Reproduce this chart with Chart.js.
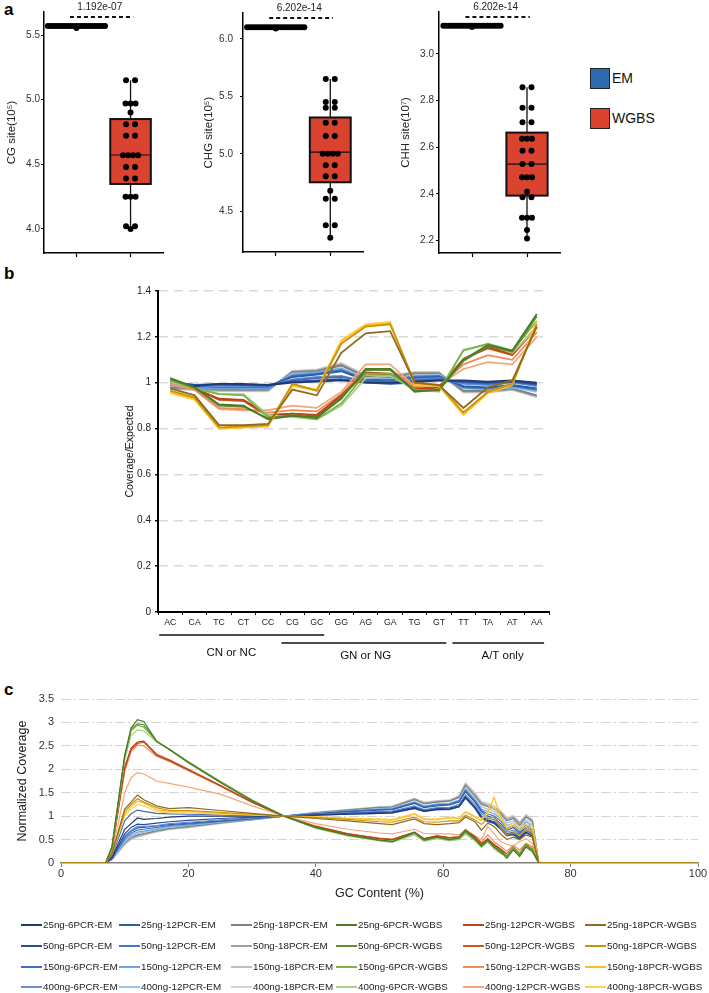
<!DOCTYPE html>
<html>
<head>
<meta charset="utf-8">
<script src="https://cdn.jsdelivr.net/npm/chart.js@4.4.1/dist/chart.umd.min.js"></script>
<style>
  body { margin: 0; background: #fff; font-family: "Liberation Sans", Arial, sans-serif; }
  #page { position: relative; width: 709px; height: 993px; overflow: hidden; background: #fff; }
  canvas { position: absolute; }
  .tag { position: absolute; font-weight: bold; font-size: 17px; line-height: 17px; color: #000; }
  .key { position: absolute; width: 20px; height: 21px; border: 1.5px solid #222; box-sizing: border-box; }
  .keyt { position: absolute; font-size: 14px; line-height: 16px; color: #111; }
</style>
</head>
<body>
<div id="page">
  <div class="tag" style="left:4px;top:1px">a</div>
  <div class="tag" style="left:4px;top:265px">b</div>
  <div class="tag" style="left:4px;top:681px">c</div>

  <canvas id="a1" width="175" height="265" style="left:0;top:0"></canvas>
  <canvas id="a2" width="175" height="265" style="left:195px;top:0"></canvas>
  <canvas id="a3" width="180" height="265" style="left:390px;top:0"></canvas>

  <div class="key" style="left:590px;top:68px;background:#2e6bb0"></div>
  <div class="keyt" style="left:612px;top:70px">EM</div>
  <div class="key" style="left:590px;top:108px;background:#d9432f"></div>
  <div class="keyt" style="left:612px;top:110px">WGBS</div>

  <canvas id="b" width="709" height="400" style="left:0;top:270px"></canvas>
  <canvas id="c" width="709" height="313" style="left:0;top:680px"></canvas>
</div>

<script>
// ---------- panel a ----------
const aGroups = ["EM", "WGBS"];
const aTitles = ["CG site(10\u2075)", "CHG site(10\u2075)", "CHH site(10\u2077)"];
const aPvalues = ["1.192e-07", "6.202e-14", "6.202e-14"];
const aTicks = [[4.0, 4.5, 5.0, 5.5], [4.5, 5.0, 5.5, 6.0], [2.2, 2.4, 2.6, 2.8, 3.0]];

const cgEM = [5.57, 5.57, 5.57, 5.57, 5.57, 5.57, 5.57, 5.57, 5.57, 5.57, 5.57, 5.57,
              5.555, 5.57, 5.57, 5.57, 5.57, 5.57, 5.57, 5.57, 5.57, 5.57, 5.57, 5.57];
const cgWGBS = [5.15, 5.15, 4.97, 4.97, 4.97, 4.90, 4.81, 4.81, 4.72, 4.72, 4.57, 4.57,
                4.57, 4.57, 4.48, 4.48, 4.39, 4.39, 4.25, 4.25, 4.25, 4.02, 4.02, 4.0];
const chgEM = [6.10, 6.10, 6.10, 6.10, 6.10, 6.10, 6.10, 6.10, 6.10, 6.10, 6.10, 6.10,
               6.09, 6.10, 6.10, 6.10, 6.10, 6.10, 6.10, 6.10, 6.10, 6.10, 6.10, 6.10];
const chgWGBS = [5.65, 5.65, 5.45, 5.45, 5.40, 5.40, 5.27, 5.27, 5.155, 5.155, 5.0, 5.0,
                 5.0, 5.0, 4.90, 4.90, 4.805, 4.805, 4.68, 4.61, 4.61, 4.38, 4.38, 4.27];
const chhEM = [3.121, 3.121, 3.121, 3.121, 3.121, 3.121, 3.121, 3.121, 3.121, 3.121, 3.121, 3.121,
               3.116, 3.121, 3.121, 3.121, 3.121, 3.121, 3.121, 3.121, 3.121, 3.121, 3.121, 3.121];
const chhWGBS = [2.857, 2.857, 2.77, 2.77, 2.707, 2.707, 2.637, 2.637, 2.637, 2.585, 2.585, 2.529,
                 2.529, 2.472, 2.472, 2.472, 2.41, 2.386, 2.386, 2.298, 2.298, 2.298, 2.246, 2.209];

const boxQ1 = [4.348, 4.753, 2.393];
const boxMedian = [4.572, 5.015, 2.528];
const boxQ3 = [4.85, 5.316, 2.663];

// ---------- panel b ----------
const bCats = ["AC", "CA", "TC", "CT", "CC", "CG", "GC", "GG", "AG", "GA", "TG", "GT", "TT", "TA", "AT", "AA"];
const groupNames = ["CN or NC", "GN or NG", "A/T only"];
const groupStart = [0, 5, 12];
const groupEnd = [6, 11, 15];
const groupLabelAt = [2.5, 8, 13.6];

const amounts = ["25ng", "50ng", "150ng", "400ng"];

const bEM6 = [
  [1.00, 0.985, 0.995, 0.995, 0.99, 1.00, 1.005, 1.01, 1.00, 1.00, 1.005, 1.01, 1.01, 1.005, 1.01, 1.00],
  [1.005, 0.99, 0.995, 0.99, 0.99, 1.005, 1.01, 1.015, 1.00, 0.995, 1.00, 1.01, 1.005, 1.00, 1.005, 0.995],
  [0.995, 0.985, 0.99, 0.99, 0.985, 1.01, 1.02, 1.025, 1.005, 1.00, 1.01, 1.015, 1.00, 0.995, 1.005, 0.99],
  [0.99, 0.98, 0.985, 0.985, 0.985, 1.015, 1.025, 1.03, 1.005, 1.005, 1.015, 1.02, 0.995, 0.99, 1.00, 0.985]
];
const bEM12 = [
  [1.00, 0.985, 0.985, 0.985, 0.985, 1.025, 1.035, 1.05, 1.01, 1.01, 1.02, 1.025, 0.985, 0.98, 0.99, 0.975],
  [0.995, 0.98, 0.98, 0.98, 0.98, 1.03, 1.04, 1.055, 1.015, 1.01, 1.025, 1.03, 0.98, 0.975, 0.985, 0.97],
  [0.99, 0.978, 0.978, 0.978, 0.978, 1.035, 1.045, 1.06, 1.015, 1.015, 1.03, 1.03, 0.978, 0.972, 0.985, 0.965],
  [0.988, 0.975, 0.975, 0.975, 0.975, 1.04, 1.045, 1.065, 1.02, 1.015, 1.03, 1.035, 0.975, 0.97, 0.98, 0.96]
];
const bEM18 = [
  [0.98, 0.975, 0.97, 0.97, 0.97, 1.045, 1.05, 1.075, 1.025, 1.025, 1.04, 1.04, 0.965, 0.965, 0.975, 0.945],
  [0.978, 0.972, 0.968, 0.968, 0.968, 1.048, 1.053, 1.08, 1.028, 1.028, 1.042, 1.042, 0.962, 0.962, 0.972, 0.942],
  [0.975, 0.97, 0.965, 0.965, 0.965, 1.05, 1.055, 1.083, 1.03, 1.03, 1.045, 1.045, 0.96, 0.96, 0.97, 0.94],
  [0.972, 0.968, 0.962, 0.962, 0.962, 1.052, 1.058, 1.086, 1.032, 1.032, 1.047, 1.047, 0.957, 0.957, 0.968, 0.937]
];
const bWGBS6 = [
  [1.02, 0.98, 0.905, 0.90, 0.84, 0.855, 0.85, 0.93, 1.06, 1.06, 0.96, 0.97, 1.10, 1.165, 1.14, 1.30],
  [1.015, 0.978, 0.90, 0.895, 0.845, 0.86, 0.845, 0.935, 1.055, 1.055, 0.965, 0.968, 1.095, 1.16, 1.135, 1.29],
  [1.01, 0.975, 0.95, 0.945, 0.85, 0.855, 0.84, 0.91, 1.04, 1.04, 0.97, 0.965, 1.14, 1.17, 1.14, 1.27],
  [1.005, 0.975, 0.95, 0.95, 0.86, 0.85, 0.84, 0.90, 1.02, 1.03, 0.97, 0.96, 1.145, 1.165, 1.13, 1.24]
];
const bWGBS12 = [
  [1.01, 0.975, 0.93, 0.925, 0.86, 0.865, 0.86, 0.945, 1.045, 1.04, 0.97, 0.98, 1.10, 1.155, 1.125, 1.245],
  [1.012, 0.975, 0.925, 0.92, 0.855, 0.865, 0.855, 0.94, 1.04, 1.035, 0.975, 0.98, 1.105, 1.15, 1.12, 1.24],
  [1.00, 0.97, 0.89, 0.885, 0.87, 0.88, 0.875, 0.95, 1.06, 1.06, 0.98, 0.985, 1.08, 1.12, 1.10, 1.22],
  [0.995, 0.968, 0.885, 0.88, 0.88, 0.90, 0.89, 0.96, 1.08, 1.08, 0.985, 0.99, 1.06, 1.09, 1.08, 1.20]
];
const bWGBS18 = [
  [0.975, 0.945, 0.815, 0.815, 0.82, 0.97, 0.945, 1.13, 1.215, 1.225, 1.00, 0.99, 0.89, 0.98, 1.01, 1.245],
  [0.965, 0.935, 0.805, 0.81, 0.815, 0.995, 0.965, 1.17, 1.245, 1.255, 1.00, 0.99, 0.87, 0.96, 0.995, 1.255],
  [0.96, 0.93, 0.80, 0.805, 0.81, 0.99, 0.97, 1.18, 1.25, 1.26, 0.995, 0.985, 0.86, 0.955, 0.99, 1.265],
  [0.955, 0.925, 0.80, 0.805, 0.81, 0.985, 0.965, 1.185, 1.255, 1.265, 0.99, 0.985, 0.865, 0.96, 0.995, 1.27]
];

// ---------- panel c ----------
const gcX = [0, 7, 8, 10, 11, 12, 13, 15, 17, 20, 25, 30, 35, 40, 45, 50, 52, 55.5, 57, 59, 61,
             62.5, 63.5, 65, 66, 67, 68, 69, 70, 71, 72, 73, 74, 75, 100];

const cEM6 = [
  [0, 0, 0.12, 0.72, 0.84, 0.96, 0.93, 0.95, 0.98, 1.0, 1.0, 1.0, 1.0, 1.02, 1.04, 1.06, 1.07, 1.17, 1.1, 1.14, 1.15, 1.2, 1.4, 1.18, 0.98, 0.9, 0.86, 0.74, 0.6, 0.62, 0.52, 0.66, 0.58, 0, 0],
  [0, 0, 0.1, 0.62, 0.76, 0.83, 0.82, 0.85, 0.88, 0.91, 0.95, 0.98, 1.0, 1.03, 1.06, 1.08, 1.09, 1.19, 1.12, 1.16, 1.17, 1.22, 1.42, 1.2, 1.0, 0.92, 0.88, 0.76, 0.62, 0.66, 0.55, 0.7, 0.62, 0, 0],
  [0, 0, 0.15, 0.9, 1.05, 1.13, 1.1, 1.06, 1.05, 1.04, 1.03, 1.01, 1.0, 1.02, 1.04, 1.06, 1.07, 1.16, 1.1, 1.14, 1.14, 1.2, 1.38, 1.16, 0.95, 0.88, 0.84, 0.72, 0.58, 0.6, 0.5, 0.64, 0.56, 0, 0],
  [0, 0, 0.1, 0.58, 0.7, 0.78, 0.78, 0.8, 0.84, 0.87, 0.92, 0.96, 1.0, 1.04, 1.07, 1.1, 1.11, 1.22, 1.14, 1.18, 1.19, 1.25, 1.46, 1.25, 1.05, 0.96, 0.92, 0.8, 0.66, 0.7, 0.6, 0.74, 0.66, 0, 0]
];
const cEM12 = [
  [0, 0, 0.1, 0.56, 0.68, 0.75, 0.76, 0.79, 0.82, 0.85, 0.9, 0.95, 1.0, 1.05, 1.09, 1.13, 1.14, 1.27, 1.18, 1.22, 1.24, 1.3, 1.52, 1.3, 1.1, 1.0, 0.96, 0.84, 0.7, 0.76, 0.62, 0.78, 0.7, 0, 0],
  [0, 0, 0.1, 0.52, 0.64, 0.7, 0.72, 0.76, 0.8, 0.83, 0.89, 0.94, 1.0, 1.05, 1.1, 1.14, 1.15, 1.29, 1.2, 1.24, 1.25, 1.32, 1.55, 1.32, 1.12, 1.05, 1.0, 0.9, 0.74, 0.8, 0.66, 0.82, 0.72, 0, 0],
  [0, 0, 0.09, 0.48, 0.6, 0.66, 0.68, 0.73, 0.78, 0.81, 0.88, 0.94, 1.0, 1.06, 1.11, 1.15, 1.16, 1.3, 1.21, 1.25, 1.27, 1.33, 1.57, 1.35, 1.15, 1.1, 1.05, 0.95, 0.8, 0.85, 0.7, 0.88, 0.78, 0, 0],
  [0, 0, 0.08, 0.45, 0.57, 0.63, 0.66, 0.71, 0.76, 0.8, 0.87, 0.93, 1.0, 1.06, 1.11, 1.16, 1.17, 1.31, 1.22, 1.26, 1.28, 1.35, 1.6, 1.38, 1.2, 1.15, 1.1, 1.0, 0.85, 0.9, 0.75, 0.92, 0.82, 0, 0]
];
const cEM18 = [
  [0, 0, 0.08, 0.44, 0.55, 0.6, 0.63, 0.69, 0.74, 0.78, 0.86, 0.93, 1.0, 1.07, 1.13, 1.18, 1.19, 1.35, 1.26, 1.3, 1.32, 1.4, 1.65, 1.42, 1.25, 1.2, 1.15, 1.05, 0.9, 0.95, 0.8, 0.98, 0.88, 0, 0],
  [0, 0, 0.08, 0.42, 0.53, 0.58, 0.62, 0.68, 0.73, 0.77, 0.85, 0.92, 1.0, 1.07, 1.13, 1.19, 1.2, 1.37, 1.28, 1.31, 1.33, 1.42, 1.68, 1.45, 1.28, 1.22, 1.18, 1.08, 0.92, 0.98, 0.84, 1.0, 0.9, 0, 0],
  [0, 0, 0.07, 0.4, 0.51, 0.56, 0.6, 0.67, 0.72, 0.76, 0.85, 0.92, 1.0, 1.08, 1.14, 1.2, 1.21, 1.38, 1.29, 1.32, 1.34, 1.43, 1.7, 1.48, 1.3, 1.25, 1.2, 1.1, 0.95, 1.0, 0.86, 1.02, 0.92, 0, 0],
  [0, 0, 0.07, 0.38, 0.5, 0.55, 0.59, 0.66, 0.71, 0.75, 0.84, 0.92, 1.0, 1.08, 1.14, 1.2, 1.22, 1.38, 1.3, 1.33, 1.35, 1.44, 1.7, 1.5, 1.32, 1.28, 1.22, 1.12, 0.97, 1.02, 0.88, 1.04, 0.94, 0, 0]
];
const cWGBS6 = [
  [0, 0, 0.35, 2.3, 2.88, 3.06, 3.02, 2.6, 2.42, 2.14, 1.72, 1.33, 1.0, 0.76, 0.6, 0.49, 0.46, 0.66, 0.5, 0.56, 0.5, 0.55, 0.7, 0.52, 0.36, 0.5, 0.34, 0.24, 0.1, 0.28, 0.14, 0.34, 0.24, 0, 0],
  [0, 0, 0.34, 2.28, 2.86, 2.97, 2.95, 2.6, 2.42, 2.15, 1.73, 1.33, 1.0, 0.76, 0.6, 0.49, 0.46, 0.64, 0.49, 0.55, 0.5, 0.53, 0.67, 0.5, 0.38, 0.48, 0.36, 0.26, 0.14, 0.3, 0.17, 0.38, 0.28, 0, 0],
  [0, 0, 0.33, 2.25, 2.82, 2.94, 2.9, 2.6, 2.43, 2.16, 1.74, 1.34, 1.0, 0.75, 0.59, 0.48, 0.45, 0.63, 0.48, 0.54, 0.49, 0.52, 0.65, 0.49, 0.35, 0.46, 0.33, 0.22, 0.15, 0.32, 0.2, 0.4, 0.3, 0, 0],
  [0, 0, 0.3, 2.2, 2.72, 2.84, 2.82, 2.58, 2.43, 2.16, 1.75, 1.35, 1.0, 0.74, 0.58, 0.47, 0.44, 0.6, 0.46, 0.52, 0.47, 0.5, 0.62, 0.47, 0.33, 0.44, 0.3, 0.2, 0.18, 0.3, 0.22, 0.36, 0.3, 0, 0]
];
const cWGBS12 = [
  [0, 0, 0.3, 2.05, 2.45, 2.58, 2.6, 2.32, 2.2, 2.0, 1.66, 1.3, 1.0, 0.78, 0.62, 0.52, 0.5, 0.66, 0.52, 0.58, 0.54, 0.56, 0.7, 0.56, 0.4, 0.52, 0.38, 0.3, 0.15, 0.3, 0.2, 0.36, 0.28, 0, 0],
  [0, 0, 0.3, 2.0, 2.42, 2.55, 2.58, 2.3, 2.18, 1.98, 1.65, 1.3, 1.0, 0.78, 0.62, 0.52, 0.5, 0.65, 0.51, 0.57, 0.53, 0.55, 0.68, 0.55, 0.42, 0.5, 0.4, 0.3, 0.2, 0.34, 0.22, 0.4, 0.3, 0, 0],
  [0, 0, 0.28, 1.95, 2.38, 2.52, 2.5, 2.28, 2.17, 1.97, 1.64, 1.29, 1.0, 0.79, 0.63, 0.53, 0.51, 0.66, 0.52, 0.58, 0.54, 0.56, 0.69, 0.56, 0.45, 0.6, 0.45, 0.35, 0.25, 0.38, 0.28, 0.42, 0.35, 0, 0],
  [0, 0, 0.22, 1.5, 1.82, 1.93, 1.9, 1.75, 1.7, 1.62, 1.47, 1.22, 1.0, 0.84, 0.72, 0.64, 0.62, 0.72, 0.63, 0.62, 0.62, 0.6, 0.72, 0.58, 0.5, 0.78, 0.62, 0.46, 0.4, 0.36, 0.46, 0.52, 0.42, 0, 0]
];
const cWGBS18 = [
  [0, 0, 0.2, 1.15, 1.3, 1.45, 1.35, 1.22, 1.16, 1.18, 1.12, 1.06, 1.0, 0.95, 0.9, 0.84, 0.82, 0.94, 0.84, 0.82, 0.84, 0.86, 0.98, 0.88, 0.7, 0.85, 0.78, 0.62, 0.5, 0.55, 0.5, 0.6, 0.55, 0, 0],
  [0, 0, 0.2, 1.1, 1.25, 1.37, 1.3, 1.18, 1.12, 1.12, 1.08, 1.04, 1.0, 0.97, 0.93, 0.88, 0.87, 0.98, 0.88, 0.87, 0.9, 0.9, 1.02, 0.92, 0.82, 0.95, 0.98, 0.75, 0.6, 0.65, 0.6, 0.7, 0.65, 0, 0],
  [0, 0, 0.2, 1.05, 1.2, 1.32, 1.28, 1.14, 1.1, 1.1, 1.06, 1.03, 1.0, 0.98, 0.95, 0.92, 0.91, 1.04, 0.93, 0.92, 0.96, 0.95, 1.08, 0.98, 0.9, 1.1, 1.4, 1.0, 0.72, 0.8, 0.7, 0.78, 0.72, 0, 0],
  [0, 0, 0.18, 1.0, 1.15, 1.25, 1.22, 1.1, 1.07, 1.07, 1.04, 1.02, 1.0, 0.99, 0.96, 0.94, 0.93, 1.06, 0.95, 0.94, 0.98, 0.96, 1.1, 1.0, 0.95, 1.05, 1.2, 0.95, 0.78, 0.85, 0.75, 0.82, 0.78, 0, 0]
];

// colours (rows = 25, 50, 150, 400 ng)
const colEM6 = ["#1f3a70", "#2b4e9c", "#4169c6", "#6a8fd6"];
const colEM12 = ["#2d5f9e", "#3b7bc8", "#6fa6df", "#9dc3ea"];
const colEM18 = ["#7f7f7f", "#a0a0a0", "#bfbfbf", "#d6d6d6"];
const colW6 = ["#4e7a28", "#5e9131", "#79b547", "#a8d08c"];
const colW12 = ["#b8431a", "#d4561c", "#f08a5a", "#f4a67a"];
const colW18 = ["#8e6b1e", "#c99310", "#ffbf1f", "#ffd34f"];

Chart.defaults.font.family = '"Liberation Sans", Arial, Helvetica, sans-serif';
Chart.defaults.color = "#222";
Chart.defaults.animation = false;
Chart.defaults.events = [];
Chart.defaults.plugins.legend.display = false;
Chart.defaults.plugins.tooltip.enabled = false;

const plainNum = v => String(+Number(v).toFixed(2));

// ---------- panel a charts ----------
function swarm(values, center, ppu) {
  const counts = {}, seen = {};
  values.forEach(v => { const k = v.toFixed(3); counts[k] = (counts[k] || 0) + 1; });
  return values.map(v => {
    const k = v.toFixed(3);
    const n = counts[k];
    seen[k] = seen[k] === undefined ? 0 : seen[k] + 1;
    const step = n === 2 ? 9 : (n <= 5 ? 5 : 2.6);
    return { x: center + (seen[k] - (n - 1) / 2) * step / ppu, y: v };
  });
}

const boxPlugin = {
  id: "boxPlot",
  beforeDatasetsDraw(chart, args, o) {
    const { ctx, scales: { x, y } } = chart;
    const cx = x.getPixelForValue(1);
    const half = o.halfWidth * (x.getPixelForValue(1) - x.getPixelForValue(0));
    ctx.save();
    ctx.strokeStyle = "#111";
    ctx.lineWidth = 1.3;
    ctx.beginPath();
    ctx.moveTo(cx, y.getPixelForValue(o.min));
    ctx.lineTo(cx, y.getPixelForValue(o.max));
    ctx.stroke();
    const t = y.getPixelForValue(o.q3), b = y.getPixelForValue(o.q1);
    ctx.fillStyle = o.fill;
    ctx.fillRect(cx - half, t, 2 * half, b - t);
    ctx.lineWidth = 2;
    ctx.strokeRect(cx - half, t, 2 * half, b - t);
    const m = y.getPixelForValue(o.median);
    ctx.lineWidth = 1.2;
    ctx.beginPath();
    ctx.moveTo(cx - half, m);
    ctx.lineTo(cx + half, m);
    ctx.stroke();
    ctx.restore();
  },
  afterDraw(chart, args, o) {
    const { ctx, chartArea, scales: { x } } = chart;
    const yb = chartArea.top + 5;
    ctx.save();
    ctx.strokeStyle = "#111";
    ctx.lineWidth = 2;
    ctx.setLineDash([4, 3]);
    ctx.beginPath();
    ctx.moveTo(x.getPixelForValue(-0.12), yb);
    ctx.lineTo(x.getPixelForValue(1.05), yb);
    ctx.stroke();
    ctx.setLineDash([]);
    ctx.fillStyle = "#222";
    ctx.font = '10px "Liberation Sans", Arial, sans-serif';
    ctx.textAlign = "center";
    ctx.textBaseline = "middle";
    ctx.fillText(o.text, x.getPixelForValue(0.43), yb - 10);
    ctx.restore();
  }
};

const aLayout = [
  { id: "a1", yW: 44, padR: 12, titlePad: 5, tickPad: 1 },
  { id: "a2", yW: 48, padR: 7, titlePad: 7, tickPad: 7 },
  { id: "a3", yW: 49, padR: 10, titlePad: 9, tickPad: 2 }
];
const aRanges = [[3.814, 5.678], [4.147, 6.224], [2.147, 3.18]];
const aSeries = [[cgEM, cgWGBS], [chgEM, chgWGBS], [chhEM, chhWGBS]];

aLayout.forEach((L, k) => {
  const el = document.getElementById(L.id);
  const ppu = (el.width - L.yW - L.padR) / 2.2;
  const em = aSeries[k][0], wg = aSeries[k][1];
  new Chart(el, {
    type: "scatter",
    data: {
      datasets: [
        { label: aGroups[0], data: swarm(em, 0, ppu), pointRadius: 3, backgroundColor: "#000", borderWidth: 0 },
        { label: aGroups[1], data: swarm(wg, 1, ppu), pointRadius: 3, backgroundColor: "#000", borderWidth: 0 }
      ]
    },
    options: {
      responsive: false,
      layout: { padding: { left: 0, top: 12, right: L.padR, bottom: 0 } },
      scales: {
        x: {
          type: "linear", min: -0.6, max: 1.6,
          afterBuildTicks: s => { s.ticks = [{ value: 0 }, { value: 1 }]; },
          afterFit: s => { s.height = 12; },
          ticks: { display: false },
          grid: { drawOnChartArea: false, tickLength: 4, tickColor: "#000", tickWidth: 1.2 },
          border: { color: "#000", width: 1.5 }
        },
        y: {
          min: aRanges[k][0], max: aRanges[k][1],
          afterBuildTicks: s => { s.ticks = aTicks[k].map(v => ({ value: v })); },
          afterFit: s => { s.width = L.yW; },
          ticks: { callback: v => v.toFixed(1), font: { size: 10 }, color: "#333", padding: L.tickPad },
          grid: { drawOnChartArea: false, tickLength: 3, tickColor: "#000" },
          border: { color: "#000", width: 1.5 },
          title: { display: true, text: aTitles[k], font: { size: 11.5 }, color: "#222", padding: { top: L.titlePad, bottom: 0 } }
        }
      },
      plugins: {
        boxPlot: {
          q1: boxQ1[k], median: boxMedian[k], q3: boxQ3[k],
          min: Math.min(...wg), max: Math.max(...wg),
          halfWidth: 0.375, fill: "#d9432f", text: aPvalues[k]
        }
      }
    },
    plugins: [boxPlugin]
  });
});

// ---------- series definitions for b and c (first drawn on top) ----------
const sets = [
  { m: "WGBS", p: "18PCR", col: 5, b: bWGBS18, c: cWGBS18, colors: colW18 },
  { m: "WGBS", p: "6PCR", col: 3, b: bWGBS6, c: cWGBS6, colors: colW6 },
  { m: "WGBS", p: "12PCR", col: 4, b: bWGBS12, c: cWGBS12, colors: colW12 },
  { m: "EM", p: "6PCR", col: 0, b: bEM6, c: cEM6, colors: colEM6 },
  { m: "EM", p: "12PCR", col: 1, b: bEM12, c: cEM12, colors: colEM12 },
  { m: "EM", p: "18PCR", col: 2, b: bEM18, c: cEM18, colors: colEM18 }
];

// ---------- panel b ----------
const bDatasets = [];
sets.forEach(s => amounts.forEach((a, r) => {
  bDatasets.push({
    label: a + "-" + s.p + "-" + s.m,
    data: s.b[r],
    borderColor: s.colors[r],
    borderWidth: 1.8,
    pointRadius: 0,
    tension: 0,
    fill: false
  });
}));

const groupPlugin = {
  id: "groups",
  afterDraw(chart) {
    const { ctx, scales: { x } } = chart;
    const cw = x.getPixelForValue(1) - x.getPixelForValue(0);
    ctx.save();
    ctx.strokeStyle = "#111";
    ctx.lineWidth = 1.5;
    ctx.fillStyle = "#111";
    ctx.font = '11.5px "Liberation Sans", Arial, sans-serif';
    ctx.textAlign = "center";
    ctx.textBaseline = "middle";
    groupNames.forEach((name, i) => {
      const x1 = x.getPixelForValue(groupStart[i]) - 0.45 * cw;
      const x2 = x.getPixelForValue(groupEnd[i]) + 0.3 * cw;
      const ly = x.top + (i === 0 ? 23 : 31);
      ctx.beginPath();
      ctx.moveTo(x1, ly);
      ctx.lineTo(x2, ly);
      ctx.stroke();
      ctx.fillText(name, x.getPixelForValue(groupLabelAt[i]), x.top + (i === 0 ? 41 : 44));
    });
    ctx.restore();
  }
};

new Chart(document.getElementById("b"), {
  type: "line",
  data: { labels: bCats, datasets: bDatasets },
  options: {
    responsive: false,
    layout: { padding: { left: 115, top: 21, right: 160, bottom: 28 } },
    scales: {
      x: {
        offset: true,
        afterFit: s => { s.height = 30; },
        ticks: { font: { size: 8.7 }, color: "#222", padding: 2, maxRotation: 0, autoSkip: false },
        grid: { offset: true, drawOnChartArea: false, tickLength: 3, tickColor: "#111" },
        border: { color: "#000", width: 2 }
      },
      y: {
        min: 0, max: 1.4,
        afterFit: s => { s.width = 43; },
        ticks: { stepSize: 0.2, callback: plainNum, font: { size: 10 }, color: "#222", padding: 4 },
        grid: {
          color: c => (c.tick && c.tick.value === 0) ? "rgba(0,0,0,0)" : "#d9d9d9",
          lineWidth: 1.5, tickLength: 3, tickColor: "#111", tickBorderDash: []
        },
        border: { color: "#000", width: 2, dash: [9, 6] },
        title: { display: true, text: "Coverage/Expected", font: { size: 10.5 }, color: "#111", padding: { top: 9, bottom: 0 } }
      }
    }
  },
  plugins: [groupPlugin]
});

// ---------- panel c ----------
const legendCols = [21, 119, 231, 336, 463, 585];
const legendRows = [245, 266, 287, 307];

const cDatasets = [];
sets.forEach(s => amounts.forEach((a, r) => {
  cDatasets.push({
    label: a + "-" + s.p + "-" + s.m,
    data: gcX.map((x, i) => ({ x: x, y: s.c[r][i] })),
    borderColor: s.colors[r],
    borderWidth: 1.2,
    pointRadius: 0,
    tension: 0,
    fill: false,
    legendRow: r,
    legendCol: s.col
  });
}));

const gridLegend = {
  id: "gridLegend",
  afterDraw(chart) {
    const ctx = chart.ctx;
    ctx.save();
    ctx.font = '9.8px "Liberation Sans", Arial, sans-serif';
    ctx.textBaseline = "middle";
    ctx.textAlign = "left";
    chart.data.datasets.forEach(ds => {
      const x0 = legendCols[ds.legendCol], y0 = legendRows[ds.legendRow];
      ctx.strokeStyle = ds.borderColor;
      ctx.lineWidth = 2;
      ctx.beginPath();
      ctx.moveTo(x0, y0);
      ctx.lineTo(x0 + 21, y0);
      ctx.stroke();
      ctx.fillStyle = "#222";
      ctx.fillText(ds.label, x0 + 22, y0);
    });
    ctx.restore();
  }
};

new Chart(document.getElementById("c"), {
  type: "line",
  data: { datasets: cDatasets },
  options: {
    responsive: false,
    layout: { padding: { left: 8, top: 19, right: 11, bottom: 88 } },
    scales: {
      x: {
        type: "linear", min: 0, max: 100,
        afterFit: s => { s.height = 42; },
        ticks: { stepSize: 20, font: { size: 11 }, color: "#333", padding: 0 },
        grid: { drawOnChartArea: false, tickLength: 4, tickColor: "#808080" },
        border: { color: "#808080", width: 1.5 },
        title: { display: true, text: "GC Content (%)", font: { size: 12.5 }, color: "#222", padding: { top: 0, bottom: 4 } }
      },
      y: {
        min: 0, max: 3.5,
        afterFit: s => { s.width = 53; },
        ticks: { stepSize: 0.5, callback: plainNum, font: { size: 11 }, color: "#333", padding: 7 },
        grid: {
          color: c => (c.tick && c.tick.value === 0) ? "rgba(0,0,0,0)" : "#d4d4d4",
          lineWidth: 1, drawTicks: false
        },
        border: { display: false, dash: [10, 3, 2, 3] },
        title: { display: true, text: "Normalized Coverage", font: { size: 12.5 }, color: "#222", padding: { top: 7, bottom: 0 } }
      }
    }
  },
  plugins: [gridLegend]
});
</script>
</body>
</html>
